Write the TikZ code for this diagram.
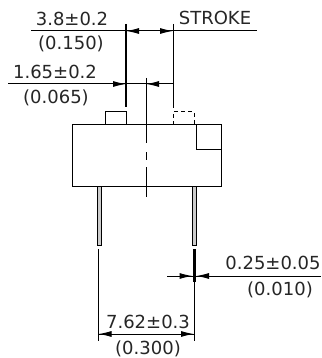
\documentclass[tikz,border=0pt]{standalone}
\usepackage{fontspec}
\setmainfont{DejaVu Sans}
\usetikzlibrary{arrows.meta}
\tikzset{
 line/.style={draw=black,line width=1pt},
 thick line/.style={draw=black,line width=1.2pt},
 lbl/.style={inner sep=0pt,font=\fontsize{18}{20}\selectfont,text=black!85},
 tip/.style={-{Latex[length=13pt,width=6pt]},draw=black,line width=1pt},
}
\begin{document}
\begin{tikzpicture}[x=1pt,y=-1pt]
\useasboundingbox[fill=white] (0,0) rectangle (321,358);
% labels
\node[lbl] (a1) at (72,19) {3.8±0.2};
\node[lbl] (a2) at (71,44) {(0.150)};
\node[lbl] (s) at (215,18) {STROKE};
\node[lbl] (b1) at (55,72) {1.65±0.2};
\node[lbl] (b2) at (56,98) {(0.065)};
\node[lbl] (c1) at (273,263) {0.25±0.05};
\node[lbl] (c2) at (280,290) {(0.010)};
\node[lbl] (d1) at (148,322) {7.62±0.3};
\node[lbl] (d2) at (148,349) {(0.300)};
% coordinates
\coordinate (t1) at (126,24); \coordinate (t1b) at (126,107);
\coordinate (t2) at (173,24); \coordinate (t2b) at (173,108);
\coordinate (tl) at (31,31); \coordinate (tr) at (257,31);
\coordinate (t1m) at (126,31); \coordinate (t2m) at (173,31);
\coordinate (ml) at (8,84); \coordinate (m1) at (126,84); \coordinate (mc) at (146,84); \coordinate (m2) at (173,84);
% body
\draw[line] (72,125) rectangle (221,186.5);
\draw[line] (105,125) -- (105,112) -- (126,112) -- (126,125);
\draw[line,dash pattern=on 4pt off 3pt] (173,125) -- (173,112) -- (194,112) -- (194,125);
\draw[line] (196,125) -- (196,150) -- (221,150);
% centre line
\draw[line] (146,78) -- (146,143);
\draw[line] (146,152) -- (146,160);
\draw[line] (146,167) -- (146,197);
% extension lines
\draw[thick line] (t1) -- (t1b);
\draw[line] (t2) -- (t2b);
% dims
\draw[line] (tl) -- (tr);
\draw[line] (ml) -- (m2);
\draw[tip] (140,31) -- (t1m);
\draw[tip] (160,31) -- (t2m);
\draw[tip] (113,84) -- (m1);
\draw[tip] (160,84) -- (mc);
% pins
\draw[line,fill=black!20] (97,186.5) rectangle (101,245);
\draw[line,fill=black!20] (192,186.5) rectangle (196,245);
% lower
\coordinate (p1) at (98.5,249); \coordinate (p1b) at (98.5,341);
\coordinate (p2) at (194,282); \coordinate (p2b) at (194,341);
\draw[line] (p1) -- (p1b);
\draw[line] (p2) -- (p2b);
\fill[black] (192.5,249) rectangle (196,282);
\coordinate (e1) at (167,276); \coordinate (e2) at (192.5,276);
\coordinate (e3) at (196,276); \coordinate (e4) at (321,276);
\draw[line] (e1) -- (e2);
\draw[line] (e3) -- (e4);
\draw[tip] (179,276) -- (e2);
\draw[tip] (209,276) -- (e3);
\coordinate (f1) at (98.5,334); \coordinate (f2) at (194,334);
\draw[line] (f1) -- (f2);
\draw[tip] (112,334) -- (f1);
\draw[tip] (181,334) -- (f2);
\end{tikzpicture}
\end{document}
